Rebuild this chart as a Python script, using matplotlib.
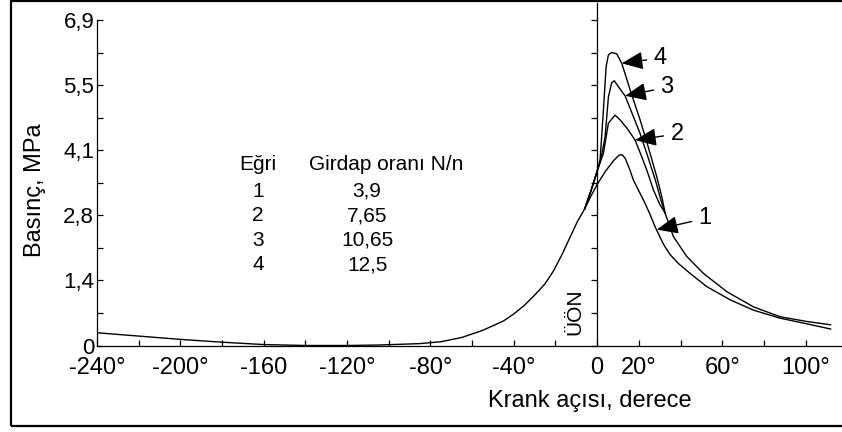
import matplotlib
matplotlib.use('Agg')
import matplotlib.pyplot as plt
from matplotlib.patches import Rectangle

plt.rcParams['font.family'] = ['Liberation Sans', 'DejaVu Sans']

# ortak egri (sikistirma, tum egriler ayni)
base_deg = [-240, -220, -200, -180, -160, -140, -120, -105, -95, -85, -75, -65,
            -55, -45, -40, -35, -30, -25, -21, -17, -13, -9.5, -6]
base_p = [0.27, 0.20, 0.13, 0.07, 0.02, 0.0, 0.0, 0.01, 0.025, 0.04, 0.08, 0.17,
          0.32, 0.52, 0.67, 0.85, 1.07, 1.31, 1.58, 1.92, 2.30, 2.63, 2.90]

# egri 1
c1_deg = [-6, -3, 0, 4, 8, 10.5, 12, 13.5, 15.5, 17.4, 20, 22.2, 25, 27.8, 31.8,
          35, 39, 44.6, 52.6, 63.8, 75, 87.8, 100.6, 112]
c1_p = [2.90, 3.17, 3.42, 3.70, 3.93, 4.04, 4.05, 3.97, 3.75, 3.51, 3.28, 3.09,
        2.82, 2.52, 2.15, 1.93, 1.74, 1.53, 1.25, 0.97, 0.75, 0.58, 0.46, 0.35]

# egri 2, 3, 4 (tepe bolgesi)
c2_deg = [-6, -3, 0, 3, 5.4, 8.6, 11, 14.5, 18.2, 21, 24, 27, 30, 32.6]
c2_p = [2.90, 3.28, 3.70, 4.08, 4.72, 4.89, 4.79, 4.60, 4.36, 4.05, 3.70, 3.30,
        3.00, 2.81]
c3_deg = [-6, -3, 0, 2, 3.8, 5.4, 7, 8.2, 10.2, 13.4, 17, 20.6, 24, 28, 30.5, 32.6]
c3_p = [2.90, 3.28, 3.70, 4.00, 4.43, 5.28, 5.58, 5.62, 5.49, 5.30, 4.90, 4.50,
        4.05, 3.50, 3.10, 2.81]
c4_deg = [-6, -3, 0, 1.4, 3, 4.3, 5.4, 7, 9.4, 11.8, 16, 20.6, 24.6, 28.6, 31,
          32.6]
c4_p = [2.90, 3.28, 3.70, 3.94, 5.00, 5.92, 6.17, 6.22, 6.19, 5.99, 5.40, 4.79,
        4.20, 3.58, 3.16, 2.81]

# 2-3-4 ortak kuyruk
tail_deg = [32.6, 36.6, 43, 51, 62.3, 75, 87.8, 100.6, 112]
tail_p = [2.81, 2.31, 1.89, 1.53, 1.14, 0.82, 0.61, 0.51, 0.44]

curve_labels = ['1', '2', '3', '4']
label_xy = [(51.8, 2.70), (38.3, 4.49), (33.5, 5.48), (30.2, 6.10)]
tip_xy = [(28.6, 2.46), (18.2, 4.36), (13.4, 5.30), (11.8, 5.99)]

egri = ['1', '2', '3', '4']
girdap = ['3,9', '7,65', '10,65', '12,5']

xticks = list(range(-240, 101, 20))
xlabels = {-240: '-240°', -200: '-200°', -160: '-160', -120: '-120°', -80: '-80°',
           -40: '-40°', 0: '0', 20: '20°', 60: '60°', 100: '100°'}
yticks = [0.69 * i for i in range(11)]
ylabels = ['0', '', '1,4', '', '2,8', '', '4,1', '', '5,5', '', '6,9']

fig = plt.figure(figsize=(8.42, 4.32), dpi=100)
ax = fig.add_axes([97 / 842, 86.5 / 432, 744 / 842, 342.5 / 432])

lw = 1.0
for xs, ys in [(base_deg, base_p), (c1_deg, c1_p), (c2_deg, c2_p),
               (c3_deg, c3_p), (c4_deg, c4_p), (tail_deg, tail_p)]:
    ax.plot(xs, ys, color='black', lw=lw)

ax.set_xlim(-240, 117)
ax.set_ylim(0, 7.27)

ax.spines['top'].set_visible(False)
ax.spines['left'].set_bounds(0, 6.9)
ax.spines['right'].set_position(('data', 0))
for s in ['left', 'right', 'bottom']:
    ax.spines[s].set_linewidth(0.9)

ax.set_xticks(xticks)
ax.set_xticklabels([xlabels.get(t, '') for t in xticks])
ax.set_yticks(yticks)
ax.set_yticklabels(ylabels)
ax.yaxis.set_ticks_position('both')
ax.tick_params(axis='both', direction='in', length=4, width=0.9)
ax.tick_params(axis='x', labelsize=17, pad=8)
ax.tick_params(axis='y', labelsize=16, pad=2, labelright=False)

for lab, txy, pxy in zip(curve_labels, label_xy, tip_xy):
    ax.annotate(lab, xy=pxy, xytext=txy, fontsize=17, ha='center', va='center',
                arrowprops=dict(arrowstyle='-|>,head_length=1.3,head_width=0.55',
                                mutation_scale=10, color='black', lw=1,
                                shrinkA=3, shrinkB=0))

# tablo
ax.text(-162.7, 3.84, 'Eğri', fontsize=15, ha='center', va='center')
ax.text(-101.3, 3.84, 'Girdap oranı N/n', fontsize=15, ha='center', va='center')
row_y = [3.27, 2.75, 2.23, 1.71]
for e, g, y in zip(egri, girdap, row_y):
    ax.text(-162.7, y, e, fontsize=15, ha='center', va='center')
    ax.text(-110.4, y, g, fontsize=15, ha='center', va='center')

ax.text(-10.6, 0.72, 'ÜÖN', fontsize=15, rotation=90, ha='center', va='center')

fig.text(35 / 842, 1 - 190 / 432, 'Basınç, MPa', fontsize=17, rotation=90,
         ha='center', va='center')
fig.text(590 / 842, 1 - 401 / 432, 'Krank açısı, derece', fontsize=17,
         ha='center', va='center')

fig.add_artist(Rectangle((11 / 842, 6 / 432), 900 / 842, 425 / 432,
                         transform=fig.transFigure, fill=False, lw=1.6,
                         edgecolor='black', clip_on=False))

fig.savefig('out.png', dpi=100)
